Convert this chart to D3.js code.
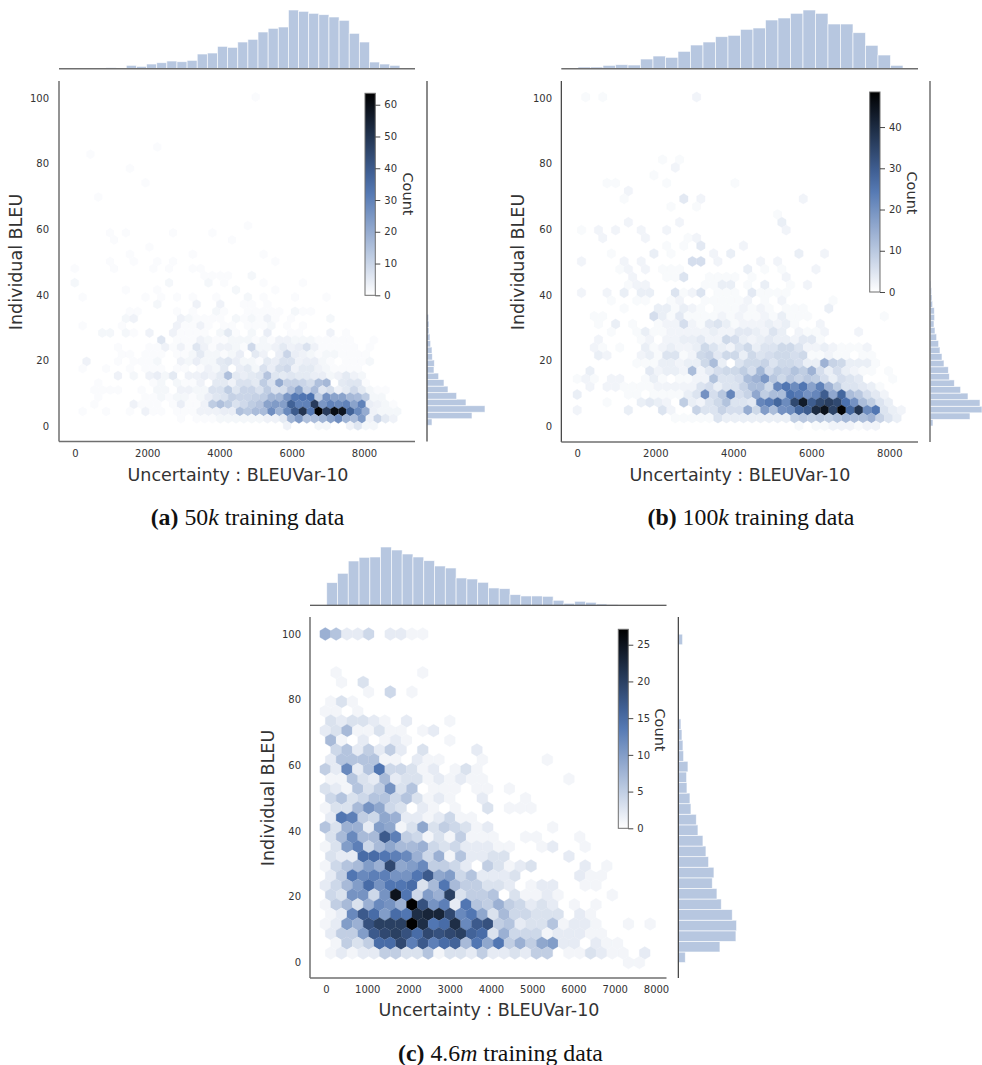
<!DOCTYPE html>
<html><head><meta charset="utf-8">
<script src="https://cdn.jsdelivr.net/npm/d3@7/dist/d3.min.js"></script>
<style>html,body{margin:0;padding:0;background:#fff}svg{display:block}</style>
</head><body>
<svg id="chart" width="982" height="1065"></svg>
<script>
// ---- values ----
const xLabel = "Uncertainty : BLEUVar-10";
const yLabel = "Individual BLEU";
const cbLabel = "Count";
const xTicksAB = [0,2000,4000,6000,8000];
const xTicksC = [0,1000,2000,3000,4000,5000,6000,7000,8000];
const yTicks = [0,20,40,60,80,100];
const cbTicksA = [0,10,20,30,40,50,60];
const cbTicksB = [0,10,20,30,40];
const cbTicksC = [0,5,10,15,20,25];

// marginal histograms (relative frequency)
const topA = [1,1,1,1,3,1,10,7,14,18,23,21,25,44,47,67,64,80,88,110,121,125,176,172,166,162,155,145,106,80,20,14,10];
const topB = [5,5,10,12,11,29,38,34,52,71,80,96,100,118,122,146,152,166,176,166,134,134,108,70,41,10];
const topC = [68,96,133,144,145,175,166,154,145,134,118,112,82,79,69,52,50,32,28,28,27,15,6,12,9,4,2];
const rightA = [15,135,174,117,89,63,51,35,21,22,16,15,11,9,6,6,5];
const rightB = [9,120,156,150,114,92,73,58,55,42,36,30,26,20,15,12,14,13,8,6,5,3];
const rightC = [21,125,173,175,162,129,116,102,107,91,83,74,59,54,38,35,26,25,29,16,14,11,8,2,0,0,0,0,0,0,13];

// hexbin counts: [row, first column, counts...]
const hexA = [
[0,23,[1]],[7,10,[1]],[8,2,[1]],[10,7,[1]],[12,9,[1]],[14,3,[1]],[18,22,[1]],
[19,4,[1,0,1]],[19,12,[1]],[19,17,[1]],[20,5,[1]],[20,20,[1]],[21,9,[1]],
[22,7,[1]],[22,15,[1]],[22,24,[1]],[23,4,[1]],[23,7,[1]],[23,10,[1]],[23,12,[1]],[23,25,[1]],
[24,0,[1]],[24,5,[1]],[24,10,[1]],[24,12,[1]],[24,15,[1,1]],
[25,16,[1,1,1,1]],[25,22,[2]],[26,0,[2]],[26,12,[2]],[26,17,[2]],[26,19,[1]],[26,24,[1]],[26,29,[1]],
[27,6,[1]],[27,10,[1]],[27,20,[2]],[27,25,[1]],
[28,1,[1]],[28,9,[1]],[28,11,[1]],[28,13,[1]],[28,15,[1]],[28,18,[1]],[28,22,[2]],[28,24,[1]],[28,28,[1]],[28,32,[1]],
[29,10,[2]],[29,15,[3]],[29,18,[3]],[29,21,[1,1,0,1]],
[30,7,[1,1]],[30,13,[1,0,1]],[30,18,[2,1,0,0,1,1,1,1,1]],[30,28,[2,1,1]],
[31,6,[2,3]],[31,13,[3,2,1,1,1,1,0,2,1,2,1,3,1,0,1]],[31,32,[2]],
[32,1,[1]],[32,6,[1]],[32,13,[3,1,1,3,1,0,1,1,0,1,1,1,2,0,1,0,1]],
[33,3,[2,2,0,2,1,0,3]],[33,12,[3,1,1,1,1,0,2,5,1,0,2,0,4,0,0,1,1,0,0,0,3,0,1]],
[34,11,[6,0,1,1,1,3,2,1,1,2,2,2,1,2,1,3,3,2,2,2,1,1,1,1,1]],[34,38,[1]],
[35,5,[1,0,0,0,1,1,3,1,3,1,6,3,1,3,3,2,1,9,2,2,3,5,3,4,7,3,1,1,1,1,1,0,1]],
[36,6,[1,1,0,1,1,1,0,1,1,2,5,2,2,1,2,4,0,5,3,0,4,10,4,3,2,1,2,2,1,1,1,1]],
[37,1,[3,0,0,0,1,0,1,1,1,2,0,0,3,2,4,2,2,5,6,4,2,2,1,5,4,7,7,3,4,4,2,1,0,1,1,1,2]],
[38,1,[1,0,0,1,0,0,1,0,1,1,1,0,1,1,0,1,3,2,5,0,4,5,2,7,4,8,9,3,5,5,3,2,1,1,1,1]],
[39,5,[3,0,2,0,3,4,2,5,0,3,3,4,3,5,15,5,4,5,6,14,6,5,6,5,5,4,4,2,3,5,3,2]],
[40,3,[1,0,0,0,0,0,0,1,2,0,2,1,1,3,0,5,5,3,7,7,5,12,7,20,11,11,10,8,15,17,0,5,6,6,1]],
[41,2,[1,1,1,1,0,0,1,0,2,2,0,3,3,2,2,7,7,12,6,10,10,7,12,7,8,14,22,10,16,6,8,3,5,9,5,2,1,1]],
[42,3,[1,0,0,0,0,0,1,1,2,1,2,2,1,2,4,6,7,11,10,10,11,12,17,17,25,32,33,34,12,26,22,22,17,16,12,2,2]],
[43,2,[1,0,0,0,0,3,1,1,1,0,1,4,1,1,3,12,15,12,7,9,12,14,22,24,23,38,30,30,48,25,30,28,30,22,30,4,3,2,1]],
[44,1,[1,0,0,1,0,0,1,0,3,1,1,0,1,1,1,3,3,3,4,4,15,13,16,16,27,18,28,40,50,32,64,48,60,58,38,28,20,3,2,2,2]],
[45,13,[1,0,1,1,1,2,2,2,2,2,2,3,3,5,18,24,15,16,18,22,27,18,16,24,3,10,5,3]],
[46,27,[3,0,0,0,2,2,0,0,3,6,2,2]]
];
const hexB = [
[0,1,[1,0,1]],[0,14,[2]],[8,10,[1,0,1]],[9,11,[2]],[10,9,[1]],
[11,3,[1,1]],[11,10,[1]],[11,18,[1]],[12,6,[2]],[13,5,[1]],[13,12,[4,0,2]],[13,26,[2]],
[14,11,[1]],[14,14,[1]],[15,23,[1]],[16,6,[2]],[16,12,[2]],[16,24,[3]],
[17,0,[1,0,2,0,2]],[17,7,[2]],[17,10,[2]],[17,24,[2]],
[18,3,[2]],[18,8,[2]],[18,13,[1,2]],[19,10,[1,0,1,0,4]],[19,19,[2]],
[20,4,[1]],[20,9,[3,0,1]],[20,16,[2,0,3]],[20,26,[3]],[20,29,[2]],
[21,0,[2]],[21,5,[2,0,2]],[21,13,[6,6,0,2]],[21,21,[2,0,2]],
[22,5,[1,2,0,2,0,1,1,1]],[22,20,[3,0,1,0,1]],[22,28,[2]],
[23,6,[2]],[23,10,[1,1,5]],[23,15,[1,1,1,1,0,1]],[23,24,[2]],
[24,6,[1,2,2]],[24,15,[1,1,3,3,0,1,0,3]],[24,25,[1,0,2]],
[25,0,[2]],[25,3,[2,0,3,0,3,3,0,0,5,1,2,5]],[25,16,[1,1,1,0,4,1,1,1,1]],
[26,4,[1]],[26,7,[1,1]],[26,11,[1,2,0,0,1,1,1,1,1,2,0,1,0,2]],[26,30,[1]],
[27,5,[1]],[27,9,[3,3,1,3,2,1,0,1,1,1,2,1,2,1,0,1,1,1,0,0,3]],
[28,2,[1,1]],[28,9,[6,3,1,4,1,1,1,1,2,1,2,1,1,2,1,3,1,1,1]],[28,36,[1]],
[29,2,[1,0,3,0,1]],[29,9,[1,2,2,6,2,1,4,5,3,1,2,2,2,3,2,3,1,0,0,2]],
[30,4,[1,0,0,1,3,1,1,2,2,2,2,2,3,2,2,4,4,3,2,5,3,0,2,1,1,2]],[30,33,[2]],
[31,2,[2]],[31,7,[1,2,0,2,2,3,3,4,2,2,7,6,3,2,3,4,3,3,2,4,4,1]],
[32,2,[2,1,0,1]],[32,8,[3,1,2,3,2,2,3,7,5,3,2,5,7,3,5,5,7,7,5,2,2,3,2,1,1,1,2]],
[33,2,[3,2]],[33,7,[2,3,1,5,5,1,2,7,8,4,7,7,3,7,5,6,7,7,6,7,1,1,2,1,1,0,1,1]],
[34,7,[1,1,1,3,3,2,3,3,7,12,3,0,5,7,7,8,5,7,7,6,3,3,14,8,7,3,3,3,1]],
[35,1,[3]],[35,8,[4,2,3,3,2,12,2,4,6,7,7,9,6,13,6,9,8,11,9,14,6,3,6,3,2,1,1,0,1]],
[36,0,[1,2,1,0,2,2]],[36,8,[1,3,1,0,1,1,2,2,11,5,5,6,12,14,19,10,7,10,8,10,9,6,3,6,5,4]],[36,37,[1]],
[37,1,[2,0,2,2,1,1,1,1,2,2,2,2,2,5,6,3,5,5,8,12,12,7,22,25,21,25,17,23,14,9,5,5,4,3,1]],
[38,0,[3]],[38,6,[1,1,0,1,1,1,1,3,5,20,6,10,22,6,8,16,9,12,12,26,24,20,22,30,16,28,12,10,6,4,2]],
[39,3,[1]],[39,7,[3,4,3,2,0,9,3,2,5,7,11,5,5,4,22,24,28,21,34,43,30,34,36,34,26,20,12,9,5,3]],
[40,0,[2]],[40,6,[3]],[40,10,[5,2]],[40,14,[8,5,5,8,6,6,15,7,18,12,20,21,28,30,40,45,35,48,28,38,21,25,5,3,2]],
[41,11,[1,1,1,1,1,5,3,3,3,3,3,3,3,3,9,10,9,10,9,11,13,12,12,14,8,5,3]],
[42,26,[1,0,1,1,2,2,2,1,2,2]]
];
const hexC = [
[0,0,[8,6,2,2,4,0,2,2,1,1]],
[4,1,[1]],[4,9,[1]],[5,1,[1,0,3]],[6,4,[1,0,4,0,1]],[7,0,[1,3,1]],[8,0,[1,1,0,1]],
[9,0,[3,2,3,3,2,1,0,2]],[9,11,[1]],
[10,0,[2,3,7,1,1,3,1,1,0,1,2]],
[11,0,[7,1,0,2,0,1,2,1]],[11,11,[1]],
[12,1,[4,6,2,5,2,5,2,0,3]],[12,14,[2]],
[13,0,[2,6,6,6,6,1,1,0,2,1,1]],[13,14,[1]],[13,20,[1]],
[14,0,[5,2,12,2,6,14,4,4,3,1,2,0,1,3,1]],
[15,0,[1,1,6,3,2,7,2,3,3,1,2,1,2,1,1]],[15,22,[1]],
[16,0,[3,2,1,6,3,5,11,3,6,0,1,1,1,0,1,1,0,1]],
[17,0,[4,6,3,4,6,6,4,6,3,1,2,1]],[17,14,[2]],[17,18,[1]],
[18,0,[1,3,3,7,11,9,4,3,0,2,1,0,1]],[18,15,[3,0,1,1,1]],
[19,0,[2,14,13,5,4,9,8,2,2,1,2,4,1,1]],
[20,0,[6,3,8,8,2,10,9,1,3,9,3,5,4,3,1,2]],[20,21,[1]],
[21,0,[3,7,12,7,7,17,13,5,4,1,3,1,5,1,1,1]],[21,18,[1,1]],[21,23,[1]],
[22,0,[1,3,10,13,4,7,9,7,7,8,4,3,4,2,2,2,1,1]],[22,20,[1,2]],[22,24,[1]],
[23,0,[3,2,2,15,15,14,13,12,8,4,8,1,6,2,2,3,3]],[23,22,[2]],
[24,0,[1,4,6,7,10,8,19,9,10,12,5,5,4,2,0,5,3,1,2,3]],[24,24,[2]],[24,26,[1]],
[25,0,[2,5,14,12,13,13,11,11,14,17,9,10,4,6,2,2,2,3]],[25,23,[2,1,1]],
[26,0,[2,4,7,10,15,11,14,14,15,3,7,14,7,5,5,3,3,2,0,1,2,2]],[26,24,[1,1]],
[27,0,[4,3,11,11,4,11,25,14,4,10,8,20,3,5,5,6,0,3,1,1,2,1]],[27,26,[1]],
[28,0,[1,5,7,3,8,12,11,8,27,18,11,13,2,14,6,5,8,5,4,2,3,2]],[28,23,[1]],[28,25,[1]],
[29,0,[1,2,12,17,15,10,15,14,22,23,23,19,12,14,9,3,7,4,4,3,3,3,0,2,1]],
[30,0,[1,2,10,8,18,20,20,20,27,22,14,15,22,12,17,18,5,6,2,3,3,6,1,2,2,1]],[30,28,[1]],[30,30,[1]],
[31,0,[2,5,5,10,17,19,20,18,15,19,18,19,20,16,15,3,8,4,4,4,1,2,2,2,1,1]],
[32,1,[1,5,3,5,15,15,19,13,17,13,15,16,7,14,9,14,5,8,5,9,10,2,2,0,2,1,1]],
[33,0,[1,2,1,2,2,5,5,3,3,6,1,3,3,2,5,2,2,3,2,5,5,0,1,1,3,2,1,1]],[33,29,[2]],
[34,28,[1,1]]
];

// ---- layout ----
const panels = [
 {id:"a", xDom:[0,8000], xRng:[75,364], yRng:[426,98], left:59, right:415, top:81, bottom:441.5, margin:427, topAxis:68.7,
  hex:hexA, hx0:-8, hdx:217.8, hyTop:100.3, hdy:2.179, vmax:63.6, cb:[365,375.3,93.3,295.3], cbTicks:cbTicksA,
  xTicks:xTicksAB, topVals:topA, tx0:-263, tdx:280.5, topH:58.7, rVals:rightA, ry0:0.22, rdy:1.99, rW:58,
  xl:[238,481], yl:[22,262], cl:[403,194], yTickX:49, xTickY:460, spineL:1, spineM:0,
  cap:["(a)","50","k","training data"], capXY:[247.5,525]},
 {id:"b", xDom:[0,8000], xRng:[577.3,889.3], yRng:[426,98], left:561.3, right:918, top:81, bottom:442, margin:930, topAxis:68.7,
  hex:hexB, hx0:-3, hdx:218.7, hyTop:100.3, hdy:2.387, vmax:48.5, cb:[869.7,880,92,292], cbTicks:cbTicksB,
  xTicks:xTicksAB, topVals:topB, tx0:18, tdx:320.5, topH:58.7, rVals:rightB, ry0:0, rdy:2.007, rW:52,
  xl:[740,481], yl:[524,262], cl:[907,193], yTickX:552, xTickY:460, spineL:0, spineM:1,
  cap:["(b)","100","k","training data"], capXY:[751,525]},
 {id:"c", xDom:[0,8000], xRng:[326,656], yRng:[962,634], left:310, right:666.5, top:617, bottom:978, margin:678.3, topAxis:605.3,
  hex:hexC, hx0:-17, hdx:262.5, hyTop:100, hdy:2.947, vmax:27.1, cb:[618.3,628.3,629.3,828.3], cbTicks:cbTicksC,
  xTicks:xTicksC, topVals:topC, tx0:17, tdx:261.4, topH:58.3, rVals:rightC, ry0:-0.18, rdy:3.23, rW:58.3,
  xl:[489,1016], yl:[274,798], cl:[655,730], yTickX:301, xTickY:996, spineL:1, spineM:0,
  cap:["(c)","4.6","m","training data"], capXY:[500.5,1061]}
];

const svg = d3.select("#chart");
const sans = "'DejaVu Sans', sans-serif";
const serif = "'Liberation Serif', 'Times New Roman', serif";
const ink = "#333333";
const barFill = "#b7c7e0";
const spine = heavy => heavy ? {c:"#6f6f6f",w:1.5} : {c:"#2a2a2a",w:1.1};

panels.forEach(p => {
  const g = svg.append("g").attr("class","panel-"+p.id);
  const x = d3.scaleLinear().domain(p.xDom).range(p.xRng);
  const y = d3.scaleLinear().domain([0,100]).range(p.yRng);
  const color = d3.scaleLinear().domain([0,p.vmax*0.53,p.vmax]).range(["#ffffff","#4c72b0","#000000"]);

  // hexbin cells
  const cells = [];
  p.hex.forEach(([k,c0,counts]) => counts.forEach((v,i) => {
    if (v>0) cells.push({xv:p.hx0+(c0+i+(k%2?0.5:0))*p.hdx, yv:p.hyTop-k*p.hdy, v});
  }));
  const hexPath = d => {
    const hw=p.hdx/2, hh=p.hdy*2/3;
    const pts=[[0,hh],[hw,hh/2],[hw,-hh/2],[0,-hh],[-hw,-hh/2],[-hw,hh/2]];
    return "M"+pts.map(q=>x(d.xv+q[0]).toFixed(2)+","+y(d.yv+q[1]).toFixed(2)).join("L")+"Z";
  };
  g.append("g").selectAll("path").data(cells).join("path")
    .attr("d",hexPath).attr("fill",d=>color(d.v)).attr("stroke",d=>color(d.v)).attr("stroke-width",0.25);

  // tick labels (no tick marks)
  const xAxis = d3.axisBottom(x).tickValues(p.xTicks).tickSize(0).tickPadding(0).tickFormat(d3.format("d"));
  const gx = g.append("g").attr("transform",`translate(0,${p.xTickY-10})`).call(xAxis);
  gx.select(".domain").remove();
  gx.selectAll("text").attr("font-family",sans).attr("font-size",10).attr("fill",ink);
  const yAxis = d3.axisLeft(y).tickValues(yTicks).tickSize(0).tickPadding(0);
  const gy = g.append("g").attr("transform",`translate(${p.yTickX},0)`).call(yAxis);
  gy.select(".domain").remove();
  gy.selectAll("text").attr("font-family",sans).attr("font-size",10).attr("fill",ink);

  // spines
  const sL=spine(p.spineL), sM=spine(p.spineM);
  const line=(x1,y1,x2,y2,s)=>g.append("line").attr("x1",x1).attr("y1",y1).attr("x2",x2).attr("y2",y2).attr("stroke",s.c).attr("stroke-width",s.w);

  // top marginal
  const hTop=d3.scaleLinear().domain([0,d3.max(p.topVals)]).range([p.topAxis,p.topAxis-p.topH]);
  g.append("g").selectAll("rect").data(p.topVals).join("rect")
    .attr("x",(d,i)=>x(p.tx0+i*p.tdx)).attr("width",(d,i)=>x(p.tx0+(i+1)*p.tdx)-x(p.tx0+i*p.tdx))
    .attr("y",d=>hTop(d)).attr("height",d=>p.topAxis-hTop(d))
    .attr("fill",barFill).attr("stroke","#ffffff").attr("stroke-opacity",0.75).attr("stroke-width",0.8);
  // right marginal
  const hR=d3.scaleLinear().domain([0,d3.max(p.rVals)]).range([p.margin,p.margin+p.rW]);
  g.append("g").selectAll("rect").data(p.rVals).join("rect")
    .attr("y",(d,i)=>y(p.ry0+(i+1)*p.rdy)).attr("height",(d,i)=>y(p.ry0+i*p.rdy)-y(p.ry0+(i+1)*p.rdy))
    .attr("x",p.margin).attr("width",d=>hR(d)-p.margin)
    .attr("fill",barFill).attr("stroke","#ffffff").attr("stroke-opacity",0.75).attr("stroke-width",0.8);

  line(p.left,p.top,p.left,p.bottom,sL);
  line(p.left,p.bottom,p.right,p.bottom,spine(1));
  line(p.left,p.topAxis,p.right,p.topAxis,p.id==="c"?spine(0):spine(1));
  line(p.margin,p.top,p.margin,p.bottom,sM);

  // colorbar
  const [cx0,cx1,cyTop,cyBot]=p.cb;
  const cy=d3.scaleLinear().domain([0,p.vmax]).range([cyBot,cyTop]);
  const gradId="grad-"+p.id;
  const grad=svg.append("defs").append("linearGradient").attr("id",gradId).attr("x1",0).attr("y1",1).attr("x2",0).attr("y2",0);
  grad.selectAll("stop").data(d3.range(0,1.0001,0.1)).join("stop")
    .attr("offset",d=>d).attr("stop-color",d=>color(d*p.vmax));
  g.append("rect").attr("x",cx0).attr("y",cyTop).attr("width",cx1-cx0).attr("height",cyBot-cyTop)
    .attr("fill",`url(#${gradId})`).attr("stroke","#6f6f6f").attr("stroke-width",1);
  const cAxis=d3.axisRight(cy).tickValues(p.cbTicks).tickSize(5).tickPadding(4);
  const gc=g.append("g").attr("transform",`translate(${cx1},0)`).call(cAxis);
  gc.select(".domain").remove();
  gc.selectAll("line").attr("stroke",ink).attr("stroke-width",0.9);
  gc.selectAll("text").attr("font-family",sans).attr("font-size",10).attr("fill",ink);
  g.append("text").attr("transform",`translate(${p.cl[0]},${p.cl[1]}) rotate(90)`).attr("text-anchor","middle")
    .attr("font-family",sans).attr("font-size",14.5).attr("fill",ink).text(cbLabel);

  // axis labels
  g.append("text").attr("x",p.xl[0]).attr("y",p.xl[1]).attr("text-anchor","middle")
    .attr("font-family",sans).attr("font-size",17.5).attr("fill",ink).text(xLabel);
  g.append("text").attr("transform",`translate(${p.yl[0]},${p.yl[1]}) rotate(-90)`).attr("text-anchor","middle")
    .attr("font-family",sans).attr("font-size",17.5).attr("fill",ink).text(yLabel);

  // caption
  const cap=g.append("text").attr("x",p.capXY[0]).attr("y",p.capXY[1]).attr("text-anchor","middle")
    .attr("font-family",serif).attr("font-size",23.8).attr("fill","#111");
  cap.append("tspan").attr("font-weight","bold").text(p.cap[0]);
  cap.append("tspan").text("\u00a0"+p.cap[1]);
  cap.append("tspan").attr("font-style","italic").text(p.cap[2]);
  cap.append("tspan").text("\u00a0"+p.cap[3]);
});
</script>
</body></html>
